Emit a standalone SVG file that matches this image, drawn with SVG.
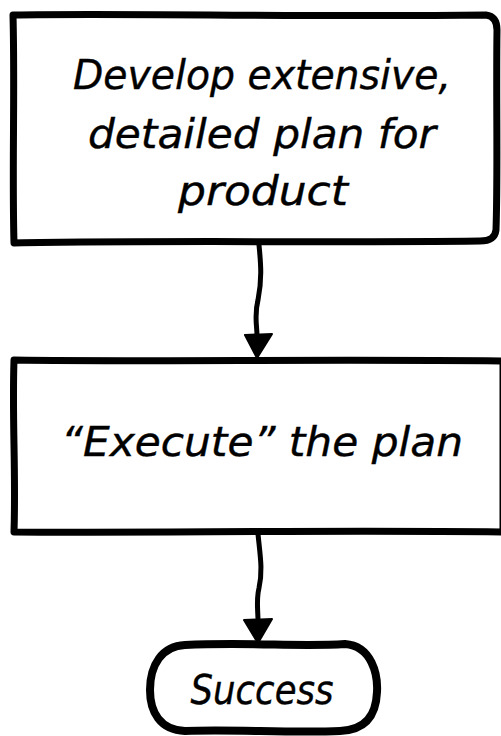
<svg xmlns="http://www.w3.org/2000/svg" width="501" height="736" viewBox="0 0 501 736">
  <style>
    .shape { fill: #ffffff; stroke: #000000; stroke-width: 7; stroke-linejoin: round; stroke-linecap: round; }
    .pill { stroke-width: 8; }
    .wire { fill: none; stroke: #000000; stroke-width: 5; stroke-linecap: round; }
    .head { fill: #000000; stroke: #000000; stroke-width: 2; stroke-linejoin: round; }
    .label { font-family: "DejaVu Sans", "Liberation Sans", sans-serif; font-style: italic; font-size: 40px; fill: #000000; stroke: #000000; stroke-width: 0.4; text-anchor: middle; }
  </style>
  <rect width="501" height="736" fill="#ffffff"/>

  <!-- first process step -->
  <g id="node-plan">
    <path class="shape" d="M13,15 C120,13 300,17 486,15 C494,16 497,22 497,30 C496,100 498,170 496,230 C495,238 490,241 480,241 C330,243 150,240 14,243 C12,170 15,90 13,15 Z"/>
    <text class="label" x="262" y="89" textLength="378" lengthAdjust="spacingAndGlyphs">Develop extensive,</text>
    <text class="label" x="262" y="148" textLength="348" lengthAdjust="spacingAndGlyphs">detailed plan for</text>
    <text class="label" x="263" y="205" textLength="170" lengthAdjust="spacingAndGlyphs">product</text>
  </g>

  <!-- second process step -->
  <g id="node-execute">
    <path class="shape" d="M14,360 C150,362 330,359 503,361 L503,532 C330,530 150,533 14,532 C16,470 12,420 14,360 Z"/>
    <text class="label" x="262" y="456" textLength="402" lengthAdjust="spacingAndGlyphs">“Execute” the plan</text>
  </g>

  <!-- terminator -->
  <g id="node-success">
    <path class="shape pill" d="M185,645 C250,642 300,647 345,644 C372,646 378,675 377,692 C376,715 366,730 340,731 C290,733 230,729 185,731 C160,730 150,712 150,690 C150,665 162,646 185,645 Z"/>
    <text class="label" x="262" y="704" textLength="143" lengthAdjust="spacingAndGlyphs">Success</text>
  </g>

  <!-- connectors -->
  <g id="connectors">
    <path class="wire" d="M259,245 C261,265 262,280 258,300 C254,315 257,325 257,336"/>
    <path class="head" d="M245,335 L272,334 L257,358 Z"/>
    <path class="wire" d="M258,534 C260,555 263,570 259,588 C256,600 258,610 258,621"/>
    <path class="head" d="M244,620 L272,619 L258,643 Z"/>
  </g>
</svg>
